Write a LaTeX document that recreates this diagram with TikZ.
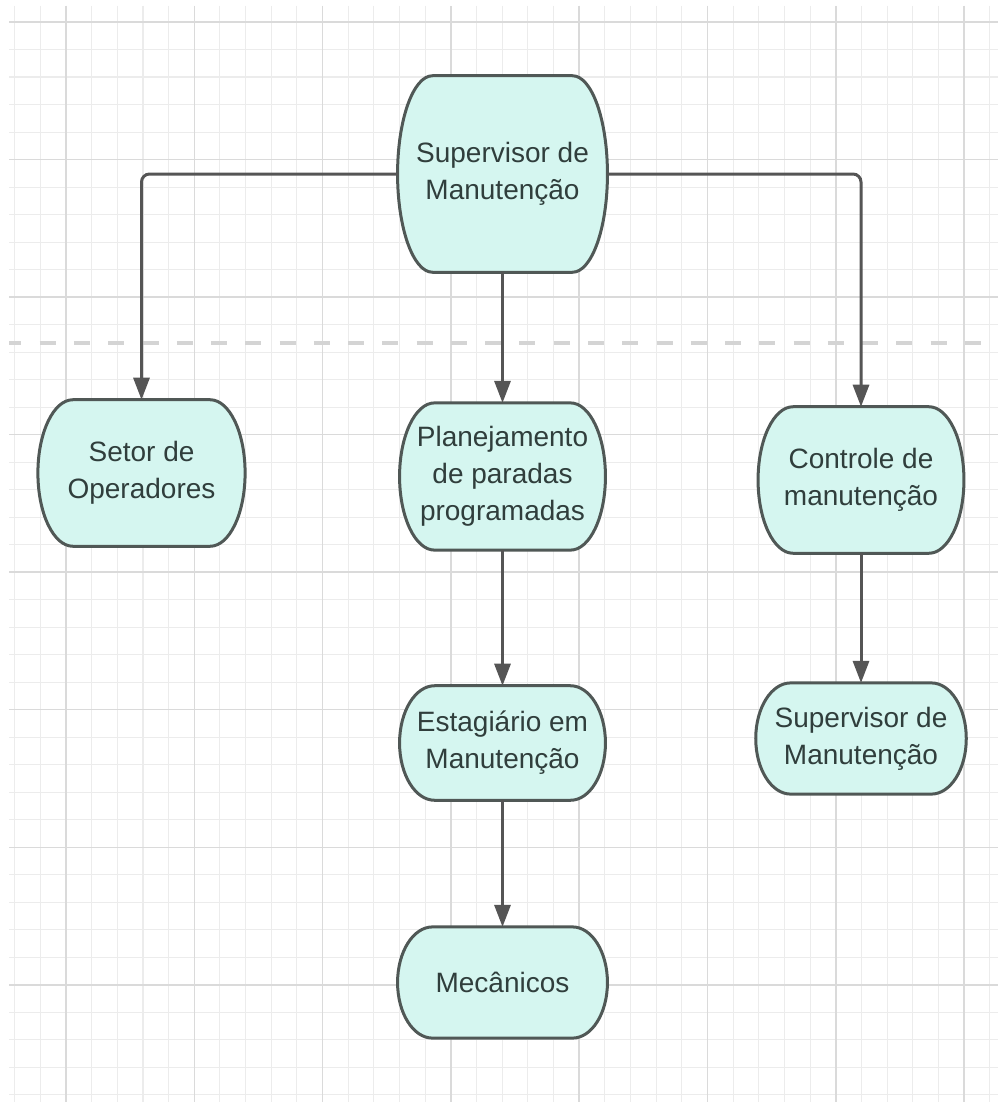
\documentclass[tikz,border=0pt]{standalone}
\usepackage{fontspec}
\setmainfont{Liberation Sans}
\usetikzlibrary{arrows.meta,calc}
\definecolor{boxfill}{RGB}{213,246,240}
\definecolor{boxline}{RGB}{80,88,86}
\definecolor{linkcol}{RGB}{85,85,85}
\definecolor{txtcol}{RGB}{48,62,60}
\definecolor{gridminor}{RGB}{236,236,236}
\definecolor{gridmajor}{RGB}{218,218,218}
\definecolor{dashcol}{RGB}{212,212,212}
\pgfdeclarelayer{paper}
\pgfdeclarelayer{shapes}
\pgfsetlayers{paper,shapes,main}
\tikzset{
  termbox/.style={draw=none, inner sep=0pt, align=center, text=txtcol,
    font=\fontsize{21}{27.75}\selectfont},
  termshape/.style={draw=boxline, fill=boxfill, line width=2.25pt},
  link/.style={draw=linkcol, line width=2.25pt, rounded corners=6pt,
    -{Triangle[length=16.5pt,width=12pt]}},
  minorline/.style={draw=gridminor, line width=0.8pt},
  majorline/.style={draw=gridmajor, line width=1.1pt},
}
\begin{document}
\begin{tikzpicture}[x=0.75pt, y=-0.75pt]
\useasboundingbox (0,0) rectangle (998,1102);

% boxes
\node[termbox, minimum width=157pt, minimum height=147pt] (sup) at (502.5,174) {Supervisor de\\Manutenção};
\node[termbox, minimum width=155pt, minimum height=109.5pt] (setor) at (141.5,473) {Setor de\\Operadores};
\node[termbox, minimum width=154pt, minimum height=110pt] (plan) at (502.5,476.5) {Planejamento\\de paradas\\programadas};
\node[termbox, minimum width=154pt, minimum height=109.5pt] (ctrl) at (861,480) {Controle de\\manutenção};
\node[termbox, minimum width=154pt, minimum height=85.5pt] (estag) at (502.5,743) {Estagiário em\\Manutenção};
\node[termbox, minimum width=157.5pt, minimum height=83pt] (sup2) at (861,738.5) {Supervisor de\\Manutenção};
\node[termbox, minimum width=157pt, minimum height=83pt] (mec) at (502.5,982.5) {Mecânicos};

% box outlines: flat top and bottom, half-elliptic sides
\begin{pgfonlayer}{shapes}
\foreach \nd in {sup,setor,plan,ctrl,estag,sup2,mec}{
  \path[termshape] let \p1=(\nd.north west), \p2=(\nd.south east),
      \n1={(\y1-\y2)/2} in
    (\x1+26.25pt,\y1) -- (\x2-26.25pt,\y1)
    arc[start angle=90, end angle=-90, x radius=26.25pt, y radius=\n1]
    -- (\x1+26.25pt,\y2)
    arc[start angle=270, end angle=90, x radius=26.25pt, y radius=\n1]
    -- cycle;
}
\end{pgfonlayer}

% connectors
\draw[link] (sup.west) -| (setor.north);
\draw[link] (sup.east) -| (ctrl.north);
\draw[link] (sup.south) -- (plan.north);
\draw[link] (plan.south) -- (estag.north);
\draw[link] (estag.south) -- (mec.north);
\draw[link] (ctrl.south) -- (sup2.north);

% paper: grid and dashed divider
\begin{pgfonlayer}{paper}
\fill[white] (0,0) rectangle (998,1102);
\foreach \k in {-2,...,36}
  \draw[minorline] ({66+25.66*\k},6) -- ({66+25.66*\k},1102);
\foreach \j in {0,...,39}
  \draw[minorline] (9,{22+27.51*\j}) -- (998,{22+27.51*\j});
\foreach \k in {0,5,...,35}
  \draw[majorline] ({66+25.66*\k},6) -- ({66+25.66*\k},1102);
\foreach \j in {0,5,...,35}
  \draw[majorline] (9,{22+27.51*\j}) -- (998,{22+27.51*\j});
\begin{scope}
  \clip (9,300) rectangle (998,400);
  \draw[dashcol, line width=2.8pt, dash pattern=on 12pt off 13.7pt] (5.46,343) -- (998,343);
\end{scope}
\end{pgfonlayer}
\end{tikzpicture}
\end{document}
